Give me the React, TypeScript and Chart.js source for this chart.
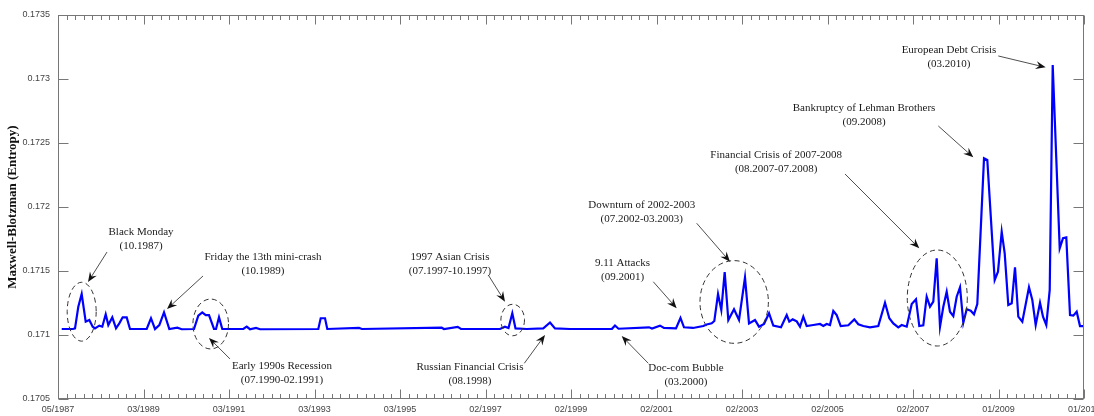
import React, { useEffect, useRef } from 'react';
import { Chart, registerables } from 'chart.js';

Chart.register(...registerables);

// X axis: sample index, a labelled tick every 20 samples
const xTickLabels = [
  '05/1987', '03/1989', '03/1991', '03/1993', '03/1995', '02/1997', '02/1999',
  '02/2001', '02/2003', '02/2005', '02/2007', '01/2009', '01/2011',
];
const xMin = 0;
const xMax = 240;
const xMajorStep = 20;
const xMinorStep = 2;

const yMin = 0.1705;
const yMax = 0.1735;
const yStep = 0.0005;

const yTitle = 'Maxwell-Blotzman (Entropy)';

const sampleIndex = [
  0.87, 3.51, 3.98, 4.75, 5.54, 6.48, 7.32, 8.12, 8.65, 9.66,
  10.36, 11.16, 11.77, 12.70, 13.57, 14.34, 15.13, 16.07, 16.84, 20.75,
  21.75, 22.69, 23.70, 24.80, 26.04, 27.91, 28.94, 31.81, 32.82, 33.75,
  34.55, 35.32, 36.49, 36.96, 37.66, 38.43, 43.35, 44.14, 44.91, 46.32,
  47.25, 60.89, 61.45, 62.46, 62.99, 70.41, 71.11, 89.75, 90.29, 93.50,
  94.27, 103.39, 104.56, 105.38, 106.27, 107.02, 109.64, 113.52, 115.09, 116.26,
  119.77, 129.59, 130.29, 131.11, 138.25, 138.95, 140.82, 141.75, 144.56, 145.61,
  146.43, 148.54, 150.95, 151.74, 152.91, 153.52, 154.39, 155.16, 155.95, 156.80,
  158.13, 159.30, 160.70, 161.64, 163.04, 163.98, 165.15, 166.32, 167.32, 169.12,
  170.46, 171.06, 171.86, 172.80, 173.57, 174.34, 175.13, 176.68, 178.25, 179.02,
  179.81, 180.58, 181.36, 182.15, 183.09, 184.87, 186.27, 187.21, 188.37, 189.94,
  191.88, 193.45, 194.46, 195.39, 196.56, 197.36, 198.53, 199.70, 200.70, 201.47,
  202.41, 203.20, 203.98, 204.75, 205.54, 206.32, 207.09, 207.88, 208.65, 209.43,
  210.22, 211.00, 211.77, 212.56, 213.50, 214.27, 215.04, 216.61, 217.38, 219.11,
  219.88, 220.75, 221.45, 222.29, 223.09, 223.86, 224.63, 225.57, 227.13, 227.91,
  228.70, 229.71, 230.41, 231.18, 231.98, 232.68, 234.32, 235.09, 235.86, 236.73,
  237.50, 238.29, 239.06, 240,
];

const entropy = [
  0.171047, 0.171047, 0.171052, 0.171221, 0.171320, 0.171104, 0.171117, 0.171065, 0.171052, 0.171073,
  0.171065, 0.171162, 0.171078, 0.171138, 0.171052, 0.171091, 0.171138, 0.171138, 0.171047, 0.171047,
  0.171131, 0.171047, 0.171078, 0.171177, 0.171047, 0.171057, 0.171045, 0.171047, 0.171151, 0.171177,
  0.171156, 0.171156, 0.171047, 0.171047, 0.171138, 0.171047, 0.171047, 0.171065, 0.171045, 0.171055,
  0.171045, 0.171047, 0.171131, 0.171131, 0.171047, 0.171055, 0.171047, 0.171057, 0.171047, 0.171063,
  0.171047, 0.171047, 0.171065, 0.171055, 0.171170, 0.171051, 0.171047, 0.171052, 0.171098, 0.171051,
  0.171047, 0.171048, 0.171074, 0.171049, 0.171060, 0.171051, 0.171073, 0.171055, 0.171051, 0.171133,
  0.171060, 0.171055, 0.171070, 0.171082, 0.171091, 0.171109, 0.171320, 0.171195, 0.171492, 0.171117,
  0.171201, 0.171117, 0.171449, 0.171091, 0.171117, 0.171065, 0.171086, 0.171170, 0.171073, 0.171060,
  0.171156, 0.171104, 0.171122, 0.171107, 0.171065, 0.171143, 0.171070, 0.171078, 0.171086, 0.171070,
  0.171086, 0.171078, 0.171188, 0.171156, 0.171070, 0.171076, 0.171122, 0.171084, 0.171070, 0.171060,
  0.171070, 0.171252, 0.171131, 0.171091, 0.171060, 0.171078, 0.171065, 0.171242, 0.171279, 0.171070,
  0.171076, 0.171299, 0.171221, 0.171260, 0.171599, 0.171065, 0.171221, 0.171338, 0.171182, 0.171148,
  0.171299, 0.171373, 0.171096, 0.171201, 0.171190, 0.171162, 0.171242, 0.172380, 0.172367, 0.171430,
  0.171495, 0.171807, 0.171638, 0.171234, 0.171248, 0.171529, 0.171143, 0.171104, 0.171373, 0.171273,
  0.171078, 0.171252, 0.171143, 0.171078, 0.171352, 0.173109, 0.171677, 0.171756, 0.171763, 0.171156,
  0.171151, 0.171182, 0.171070, 0.171070,
];

// Annotation labels (data coordinates: sample index, entropy value)
const eventLabels = [
  ['Black Monday', '(10.1987)'],
  ['Friday the 13th mini-crash', '(10.1989)'],
  ['Early 1990s Recession', '(07.1990-02.1991)'],
  ['1997 Asian Crisis', '(07.1997-10.1997)'],
  ['Russian Financial Crisis', '(08.1998)'],
  ['Doc-com Bubble', '(03.2000)'],
  ['9.11 Attacks', '(09.2001)'],
  ['Downturn of 2002-2003', '(07.2002-03.2003)'],
  ['Financial Crisis of 2007-2008', '(08.2007-07.2008)'],
  ['Bankruptcy of Lehman Brothers', '(09.2008)'],
  ['European Debt Crisis', '(03.2010)'],
];
const eventTextAt = [
  [19.42, 0.171805], [47.95, 0.171609], [52.40, 0.170760], [91.70, 0.171607],
  [96.37, 0.170752], [146.90, 0.170740], [132.05, 0.171565], [136.54, 0.172016],
  [168.0, 0.172406], [188.54, 0.172776], [208.42, 0.173227],
];
const eventArrows = [
  [11.46, 0.171648, 7.02, 0.171414],
  [33.92, 0.171461, 25.50, 0.171203],
  [40.23, 0.170813, 35.32, 0.170977],
  [100.65, 0.171469, 104.56, 0.171260],
  [109.08, 0.170779, 113.92, 0.171000],
  [138.08, 0.170779, 131.86, 0.170992],
  [139.25, 0.171416, 144.72, 0.171209],
  [149.40, 0.171873, 157.19, 0.171573],
  [184.09, 0.172258, 201.47, 0.171677],
  [205.92, 0.172633, 214.11, 0.172388],
  [219.95, 0.173180, 231.04, 0.173091],
];
// [centre index, centre value, half-width (index), half-height (value)]
const eventEllipses = [
  [5.54, 0.171182, 3.39, 0.000230],
  [35.72, 0.171086, 4.16, 0.000195],
  [106.36, 0.171117, 2.76, 0.000123],
  [158.17, 0.171258, 8.0, 0.000323],
  [205.68, 0.171289, 7.02, 0.000375],
];

function drawArrow(ctx: CanvasRenderingContext2D, x1: number, y1: number, x2: number, y2: number) {
  const ang = Math.atan2(y2 - y1, x2 - x1);
  const c = Math.cos(ang);
  const s = Math.sin(ang);
  const L = 10;
  const W = 4;
  ctx.beginPath();
  ctx.moveTo(x1, y1);
  ctx.lineTo(x2 - c * L * 0.6, y2 - s * L * 0.6);
  ctx.stroke();
  ctx.beginPath();
  ctx.moveTo(x2, y2);
  ctx.lineTo(x2 - c * L - s * W, y2 - s * L + c * W);
  ctx.lineTo(x2 - c * L * 0.65, y2 - s * L * 0.65);
  ctx.lineTo(x2 - c * L + s * W, y2 - s * L - c * W);
  ctx.closePath();
  ctx.fill();
}

const decorPlugin = {
  id: 'decor',
  afterDraw(chart: any) {
    const { ctx, chartArea: a, scales } = chart;
    const x = scales.x;
    const y = scales.y;
    ctx.save();
    // frame
    ctx.strokeStyle = '#777';
    ctx.lineWidth = 1;
    const L = Math.round(a.left) + 0.5;
    const R = Math.round(a.right) - 0.5;
    const T = Math.round(a.top) + 0.5;
    const B = Math.round(a.bottom) - 0.5;
    ctx.strokeRect(L, T, R - L, B - T);
    // x ticks (inward, top and bottom)
    ctx.beginPath();
    for (let v = xMin; v <= xMax + 1e-9; v += xMinorStep) {
      const px = Math.round(x.getPixelForValue(v)) + 0.5;
      const len = Math.abs(v % xMajorStep) < 1e-6 ? 9 : 4.5;
      ctx.moveTo(px, B);
      ctx.lineTo(px, B - len);
      ctx.moveTo(px, T);
      ctx.lineTo(px, T + len);
    }
    // y ticks (inward, left and right)
    for (let v = yMin; v <= yMax + 1e-9; v += yStep) {
      const py = Math.round(y.getPixelForValue(v)) + 0.5;
      ctx.moveTo(L, py);
      ctx.lineTo(L + 10, py);
      ctx.moveTo(R, py);
      ctx.lineTo(R - 10, py);
    }
    ctx.stroke();

    // dashed ellipses
    ctx.strokeStyle = '#333';
    ctx.lineWidth = 1;
    ctx.setLineDash([5, 3.5]);
    eventEllipses.forEach(([cx, cy, rx, ry]) => {
      const pcx = x.getPixelForValue(cx);
      const pcy = y.getPixelForValue(cy);
      const prx = x.getPixelForValue(cx + rx) - pcx;
      const pry = pcy - y.getPixelForValue(cy + ry);
      ctx.beginPath();
      ctx.ellipse(pcx, pcy, prx, pry, 0, 0, Math.PI * 2);
      ctx.stroke();
    });
    ctx.setLineDash([]);

    // arrows
    ctx.strokeStyle = '#222';
    ctx.fillStyle = '#111';
    ctx.lineWidth = 0.8;
    eventArrows.forEach(([ax, ay, bx, by]) => {
      drawArrow(
        ctx,
        x.getPixelForValue(ax), y.getPixelForValue(ay),
        x.getPixelForValue(bx), y.getPixelForValue(by),
      );
    });

    // labels
    ctx.fillStyle = '#1a1a1a';
    ctx.font = '11px "Liberation Serif", "Times New Roman", serif';
    ctx.textAlign = 'center';
    ctx.textBaseline = 'middle';
    eventLabels.forEach((lines, i) => {
      const [tx, ty] = eventTextAt[i];
      const px = x.getPixelForValue(tx);
      const py = y.getPixelForValue(ty);
      lines.forEach((line, k) => ctx.fillText(line, px, py + k * 14));
    });
    ctx.restore();
  },
};

export default function App() {
  const ref = useRef<HTMLCanvasElement>(null);
  useEffect(() => {
    document.body.style.margin = '0';
    const canvas = ref.current;
    if (!canvas) return;
    const points = sampleIndex.map((xi, i) => ({ x: xi, y: entropy[i] }));
    const tickFont = { family: '"Liberation Sans", Arial, sans-serif', size: 9 };
    const chart = new Chart(canvas, {
      type: 'line',
      data: {
        datasets: [
          {
            label: yTitle,
            data: points,
            borderColor: '#0000ff',
            borderWidth: 2.2,
            pointRadius: 0,
            tension: 0,
            fill: false,
          },
        ],
      },
      options: {
        responsive: false,
        animation: false,
        devicePixelRatio: 1,
        layout: { padding: { top: 15, right: 10, left: 0, bottom: 0 } },
        plugins: { legend: { display: false }, tooltip: { enabled: false } },
        scales: {
          x: {
            type: 'linear',
            min: xMin,
            max: xMax,
            grid: { display: false, drawTicks: false },
            border: { display: false },
            ticks: {
              stepSize: xMajorStep,
              autoSkip: false,
              maxRotation: 0,
              padding: 5,
              color: '#444',
              font: tickFont,
              callback: (v: any) => xTickLabels[Math.round(Number(v) / xMajorStep)] ?? '',
            },
            afterFit: (s: any) => {
              s.height = 17;
              s.paddingLeft = 0;
              s.paddingRight = 0;
            },
          },
          y: {
            type: 'linear',
            min: yMin,
            max: yMax,
            grid: { display: false, drawTicks: false },
            border: { display: false },
            ticks: {
              stepSize: yStep,
              padding: 8,
              color: '#444',
              font: tickFont,
              callback: (v: any) => String(Number(Number(v).toFixed(4))),
            },
            title: {
              display: true,
              text: yTitle,
              color: '#111',
              padding: { top: 5, bottom: 0 },
              font: { family: '"Liberation Serif", "Times New Roman", serif', size: 13, weight: 'bold' },
            },
            afterFit: (s: any) => {
              s.width = 58;
              s.paddingTop = 0;
              s.paddingBottom = 0;
            },
          },
        },
      },
      plugins: [decorPlugin],
    } as any);
    return () => chart.destroy();
  }, []);
  return (
    <div style={{ width: 1094, height: 416 }}>
      <canvas ref={ref} width={1094} height={416} style={{ display: 'block' }} />
    </div>
  );
}
